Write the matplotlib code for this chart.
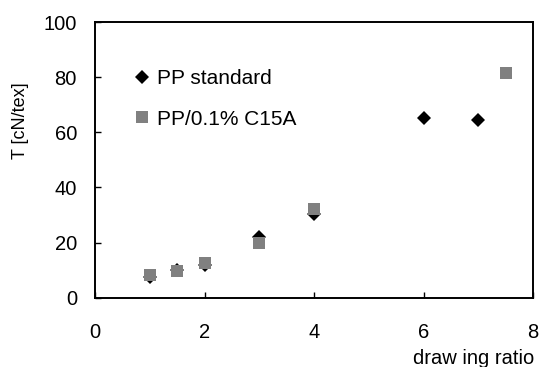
import matplotlib
matplotlib.use('Agg')
import matplotlib.pyplot as plt

plt.rcParams['font.family'] = ['Liberation Sans', 'DejaVu Sans']

# drawing ratio vs tenacity
x_std = [1, 1.5, 2, 3, 4, 6, 7]
t_std = [7.6, 10.2, 11.9, 22.1, 30.2, 65.1, 64.4]

x_c15a = [1, 1.5, 2, 3, 4, 7.5]
t_c15a = [8.1, 9.8, 12.5, 19.8, 32.2, 81.5]

x_ticks = [0, 2, 4, 6, 8]
y_ticks = [0, 20, 40, 60, 80, 100]

fig = plt.figure(figsize=(5.39, 3.67), dpi=100)
ax = fig.add_axes([0.1763, 0.1888, 0.8126, 0.7512])

ax.plot(x_std, t_std, linestyle='none', marker='D', markersize=7.1,
        color='black', markeredgewidth=0, label='PP standard')
ax.plot(x_c15a, t_c15a, linestyle='none', marker='s', markersize=8.6,
        color='#808080', markeredgewidth=0, label='PP/0.1% C15A')

ax.set_xlim(0, 8)
ax.set_ylim(0, 100)
ax.set_xticks(x_ticks)
ax.set_yticks(y_ticks)
ax.tick_params(direction='in', length=4, width=1, labelsize=14.5)
ax.tick_params(axis='x', pad=18)
ax.tick_params(axis='y', pad=13)
for s in ax.spines.values():
    s.set_linewidth(1.4)

ax.set_ylabel('T [cN/tex]', fontsize=13, va='center')
ax.yaxis.set_label_coords(-0.171, 0.641)
ax.set_xlabel('draw ing ratio', fontsize=14.5, ha='right', va='center')
ax.xaxis.set_label_coords(1.002, -0.219)

ax.legend(loc='upper left', bbox_to_anchor=(0.083, 0.83), frameon=False,
          borderpad=0, borderaxespad=0, handlelength=1.0, handletextpad=0.25,
          labelspacing=1.05, fontsize=15, numpoints=1)

fig.savefig('out.png', dpi=100)
